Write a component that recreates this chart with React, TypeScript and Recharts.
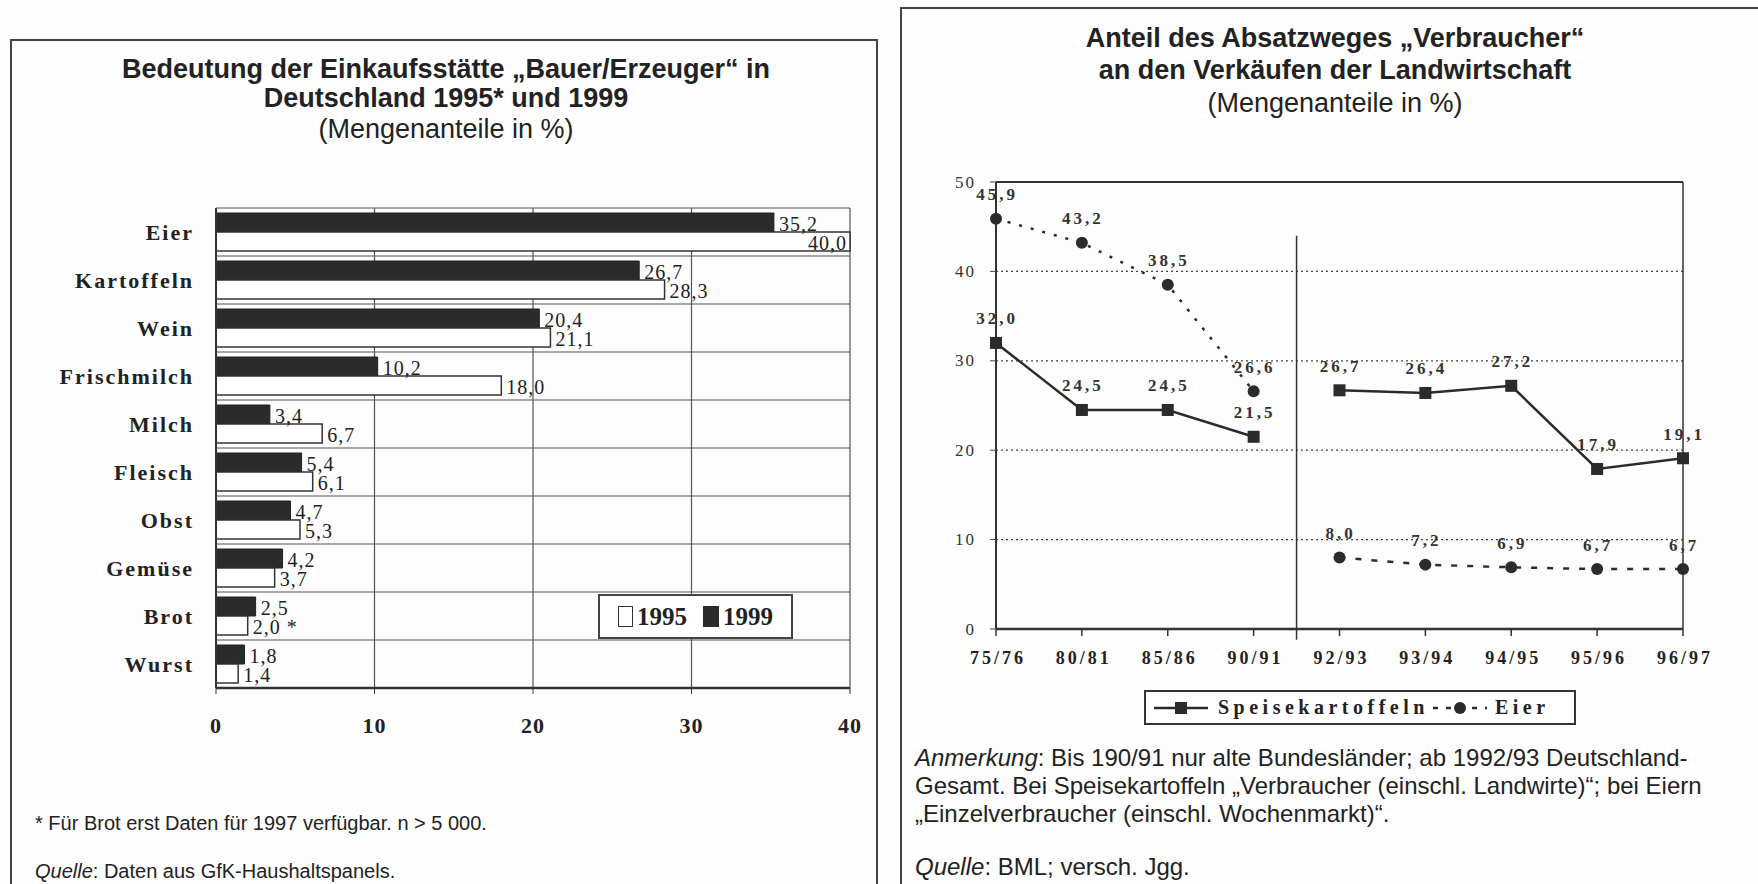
import React from 'react';
import {
  BarChart, Bar, XAxis, YAxis, CartesianGrid, LabelList,
  LineChart, Line, ReferenceLine,
} from 'recharts';

// left chart: Einkaufsstätte Bauer/Erzeuger
const goods = ['Eier', 'Kartoffeln', 'Wein', 'Frischmilch', 'Milch', 'Fleisch', 'Obst', 'Gemüse', 'Brot', 'Wurst'];
const share1999 = [35.2, 26.7, 20.4, 10.2, 3.4, 5.4, 4.7, 4.2, 2.5, 1.8];
const share1995 = [40.0, 28.3, 21.1, 18.0, 6.7, 6.1, 5.3, 3.7, 2.0, 1.4];
const barTicks = [0, 10, 20, 30, 40];

// right chart: Absatzweg Verbraucher
const periods = ['75/76', '80/81', '85/86', '90/91', '92/93', '93/94', '94/95', '95/96', '96/97'];
const speisekartoffeln = [32.0, 24.5, 24.5, 21.5, 26.7, 26.4, 27.2, 17.9, 19.1];
const eier = [45.9, 43.2, 38.5, 26.6, 8.0, 7.2, 6.9, 6.7, 6.7];
const firstAllGermany = 4; // ab 1992/93 Deutschland gesamt
const lineTicks = [0, 10, 20, 30, 40, 50];
const gridValues = [10, 20, 30, 40];

const INK = '#2b2b2b';
const SANS = '"Liberation Sans", Arial, sans-serif';
const SERIF = '"Liberation Serif", "Times New Roman", serif';

const fmt = (v: number) => v.toFixed(1).replace('.', ',');

const barData = goods.map((name, i) => ({ name, v1999: share1999[i], v1995: share1995[i] }));

const lineData = periods.map((p, i) => ({
  i,
  kW: i < firstAllGermany ? speisekartoffeln[i] : null,
  kO: i >= firstAllGermany ? speisekartoffeln[i] : null,
  eW: i < firstAllGermany ? eier[i] : null,
  eO: i >= firstAllGermany ? eier[i] : null,
}));

function BarValue(props: any) {
  const { x, y, width, height, value, index, star } = props;
  if (value == null) return null;
  const nearEdge = value >= 38;
  const tx = nearEdge ? x + width - 3 : x + width + 5;
  const extra = star && goods[index] === 'Brot' ? '  *' : '';
  return (
    <text x={tx} y={y + height / 2 + 1} textAnchor={nearEdge ? 'end' : 'start'} dominantBaseline="central"
      fontFamily={SERIF} fontSize={20} letterSpacing={1} fill="#222">
      {fmt(value) + extra}
    </text>
  );
}

function PointValue(props: any) {
  const { value } = props;
  const x = props.x ?? props.viewBox?.x;
  const y = props.y ?? props.viewBox?.y;
  if (value == null || x == null || y == null) return null;
  return (
    <text x={x + 1} y={y - 24} textAnchor="middle" dominantBaseline="central"
      fontFamily={SERIF} fontWeight="bold" fontSize={17} letterSpacing={3} fill="#333">
      {fmt(value)}
    </text>
  );
}

const squareDot = (p: any) => {
  if (p.cy == null || p.value == null) return <g key={p.key} />;
  return <rect key={p.key} x={p.cx - 6} y={p.cy - 6} width={12} height={12} fill={INK} />;
};

const roundDot = (p: any) => {
  if (p.cy == null || p.value == null) return <g key={p.key} />;
  return <circle key={p.key} cx={p.cx} cy={p.cy} r={6} fill={INK} />;
};

const BarXTick = (p: any) => (
  <text x={p.x} y={p.y} textAnchor="middle" dominantBaseline="hanging" fontFamily={SERIF}
    fontWeight="bold" fontSize={22} letterSpacing={1} fill="#222">{p.payload.value}</text>
);

const BarYTick = (p: any) => (
  <text x={p.x} y={p.y} textAnchor="end" dominantBaseline="central" fontFamily={SERIF}
    fontWeight="bold" fontSize={22} letterSpacing={2} fill="#222">{p.payload.value}</text>
);

const LineXTick = (p: any) => (
  <text x={p.x + 2} y={p.y} textAnchor="middle" dominantBaseline="hanging" fontFamily={SERIF}
    fontWeight="bold" fontSize={18} letterSpacing={3} fill="#222">{periods[p.payload.value]}</text>
);

const LineYTick = (p: any) => (
  <text x={p.x} y={p.y} textAnchor="end" dominantBaseline="central" fontFamily={SERIF}
    fontSize={17} letterSpacing={2} fill="#333">{p.payload.value}</text>
);

const abs = (left: number, top: number, extra: React.CSSProperties = {}): React.CSSProperties => ({
  position: 'absolute', left, top, ...extra,
});

export default function App() {
  return (
    <div style={{ position: 'absolute', left: 0, top: 0, width: 1758, height: 884, overflow: 'hidden', background: '#fdfdfd', color: '#222' }}>
      {/* panel frames */}
      <div style={abs(10, 39, { width: 864, height: 900, border: '2px solid #444' })} />
      <div style={abs(900, 7, { width: 900, height: 900, border: '2px solid #444' })} />

      {/* left titles */}
      <div style={abs(46, 55, { width: 800, textAlign: 'center', fontFamily: SANS, fontSize: 27, lineHeight: '29px', fontWeight: 'bold' })}>
        Bedeutung der Einkaufsstätte „Bauer/Erzeuger“ in<br />Deutschland 1995* und 1999
      </div>
      <div style={abs(46, 114, { width: 800, textAlign: 'center', fontFamily: SANS, fontSize: 27, lineHeight: '30px' })}>
        (Mengenanteile in %)
      </div>

      <div style={abs(0, 0)}>
        <BarChart width={880} height={760} data={barData} layout="vertical"
          margin={{ top: 208, right: 30, bottom: 0, left: 0 }} barCategoryGap={5} barGap={0}>
          <CartesianGrid stroke="#555" strokeWidth={1.2}
            horizontalCoordinatesGenerator={({ offset }: any) => goods.map((_, k) => offset.top + (k * offset.height) / goods.length)} />
          <XAxis type="number" domain={[0, 40]} ticks={barTicks} height={72} tick={BarXTick}
            axisLine={{ stroke: '#333', strokeWidth: 2.5 }} tickLine={{ stroke: '#333' }} tickSize={6} tickMargin={23} />
          <YAxis type="category" dataKey="name" width={216} tick={BarYTick} tickLine={false}
            axisLine={{ stroke: '#333', strokeWidth: 2 }} tickSize={8} tickMargin={14} />
          <Bar dataKey="v1999" fill={INK} stroke="#222" strokeWidth={1} isAnimationActive={false}>
            <LabelList dataKey="v1999" content={(p: any) => <BarValue {...p} />} />
          </Bar>
          <Bar dataKey="v1995" fill="#ffffff" stroke="#333" strokeWidth={1.5} isAnimationActive={false}>
            <LabelList dataKey="v1995" content={(p: any) => <BarValue {...p} star />} />
          </Bar>
        </BarChart>
      </div>

      {/* left legend */}
      <div style={abs(598, 594, { width: 191, height: 41, border: '2px solid #444', background: '#fff', display: 'flex', alignItems: 'center', justifyContent: 'center', gap: 4, fontFamily: SERIF, fontWeight: 'bold', fontSize: 25 })}>
        <span style={{ width: 13, height: 19, border: '1.5px solid #333', background: '#fff', display: 'inline-block' }} />
        <span style={{ marginRight: 12 }}>1995</span>
        <span style={{ width: 16, height: 21, background: INK, display: 'inline-block' }} />
        <span>1999</span>
      </div>

      {/* left notes */}
      <div style={abs(35, 812, { fontFamily: SANS, fontSize: 20 })}>* Für Brot erst Daten für 1997 verfügbar. n &gt; 5 000.</div>
      <div style={abs(35, 860, { fontFamily: SANS, fontSize: 20 })}><i>Quelle</i>: Daten aus GfK-Haushaltspanels.</div>

      {/* right titles */}
      <div style={abs(935, 22, { width: 800, textAlign: 'center', fontFamily: SANS, fontSize: 27, lineHeight: '32px', fontWeight: 'bold' })}>
        Anteil des Absatzweges „Verbraucher“<br />an den Verkäufen der Landwirtschaft
      </div>
      <div style={abs(935, 88, { width: 800, textAlign: 'center', fontFamily: SANS, fontSize: 27, lineHeight: '31px' })}>
        (Mengenanteile in %)
      </div>

      <div style={abs(880, 0)}>
        <LineChart width={878} height={700} data={lineData} margin={{ top: 182, right: 75, bottom: 0, left: 0 }}>
          {gridValues.map((v) => (
            <ReferenceLine key={v} y={v} stroke="#444" strokeWidth={1.3} strokeDasharray="2 3" />
          ))}
          <ReferenceLine y={lineTicks[lineTicks.length - 1]} stroke="#333" strokeWidth={2} />
          <ReferenceLine x={periods.length - 1} stroke="#333" strokeWidth={1.5} />
          <ReferenceLine segment={[{ x: firstAllGermany - 0.5, y: 44 }, { x: firstAllGermany - 0.5, y: -1.2 }]}
            stroke="#333" strokeWidth={1.5} ifOverflow="visible" />
          <XAxis type="number" dataKey="i" domain={[0, periods.length - 1]} ticks={periods.map((_, i) => i)}
            height={71} tick={LineXTick} axisLine={{ stroke: '#333', strokeWidth: 2.5 }}
            tickLine={{ stroke: '#333', strokeWidth: 1.5 }} tickSize={7} tickMargin={15} />
          <YAxis type="number" domain={[0, 50]} ticks={lineTicks} width={116} tick={LineYTick}
            axisLine={{ stroke: '#333', strokeWidth: 2 }} tickLine={{ stroke: '#444' }} tickSize={6} tickMargin={14} />
          <Line dataKey="kW" stroke={INK} strokeWidth={2.5} dot={squareDot} activeDot={false} isAnimationActive={false}>
            <LabelList dataKey="kW" content={(p: any) => <PointValue {...p} />} />
          </Line>
          <Line dataKey="kO" stroke={INK} strokeWidth={2.5} dot={squareDot} activeDot={false} isAnimationActive={false}>
            <LabelList dataKey="kO" content={(p: any) => <PointValue {...p} />} />
          </Line>
          <Line dataKey="eW" stroke={INK} strokeWidth={2.5} strokeDasharray="3 9" dot={roundDot} activeDot={false} isAnimationActive={false}>
            <LabelList dataKey="eW" content={(p: any) => <PointValue {...p} />} />
          </Line>
          <Line dataKey="eO" stroke={INK} strokeWidth={2.5} strokeDasharray="6 10" dot={roundDot} activeDot={false} isAnimationActive={false}>
            <LabelList dataKey="eO" content={(p: any) => <PointValue {...p} />} />
          </Line>
        </LineChart>
      </div>

      {/* right legend */}
      <div style={abs(1144, 690, { width: 428, height: 31, border: '2px solid #333', background: '#fff', display: 'flex', alignItems: 'center', fontFamily: SERIF, fontWeight: 'bold', fontSize: 20, letterSpacing: 4.5 })}>
        <svg width={60} height={20} style={{ marginLeft: 6 }}>
          <line x1={2} y1={10} x2={56} y2={10} stroke={INK} strokeWidth={2.5} />
          <rect x={23} y={4} width={12} height={12} fill={INK} />
        </svg>
        <span style={{ marginLeft: 6 }}>Speisekartoffeln</span>
        <svg width={58} height={20} style={{ marginLeft: 2 }}>
          <line x1={2} y1={10} x2={56} y2={10} stroke={INK} strokeWidth={2.5} strokeDasharray="5 8" />
          <circle cx={29} cy={10} r={6} fill={INK} />
        </svg>
        <span style={{ marginLeft: 6 }}>Eier</span>
      </div>

      {/* right notes */}
      <div style={abs(915, 744, { width: 840, fontFamily: SANS, fontSize: 24, lineHeight: '28px' })}>
        <i>Anmerkung</i>: Bis 190/91 nur alte Bundesländer; ab 1992/93 Deutschland-<br />
        Gesamt. Bei Speisekartoffeln „Verbraucher (einschl. Landwirte)“; bei Eiern<br />
        „Einzelverbraucher (einschl. Wochenmarkt)“.
      </div>
      <div style={abs(915, 853, { fontFamily: SANS, fontSize: 24 })}><i>Quelle</i>: BML; versch. Jgg.</div>
    </div>
  );
}
